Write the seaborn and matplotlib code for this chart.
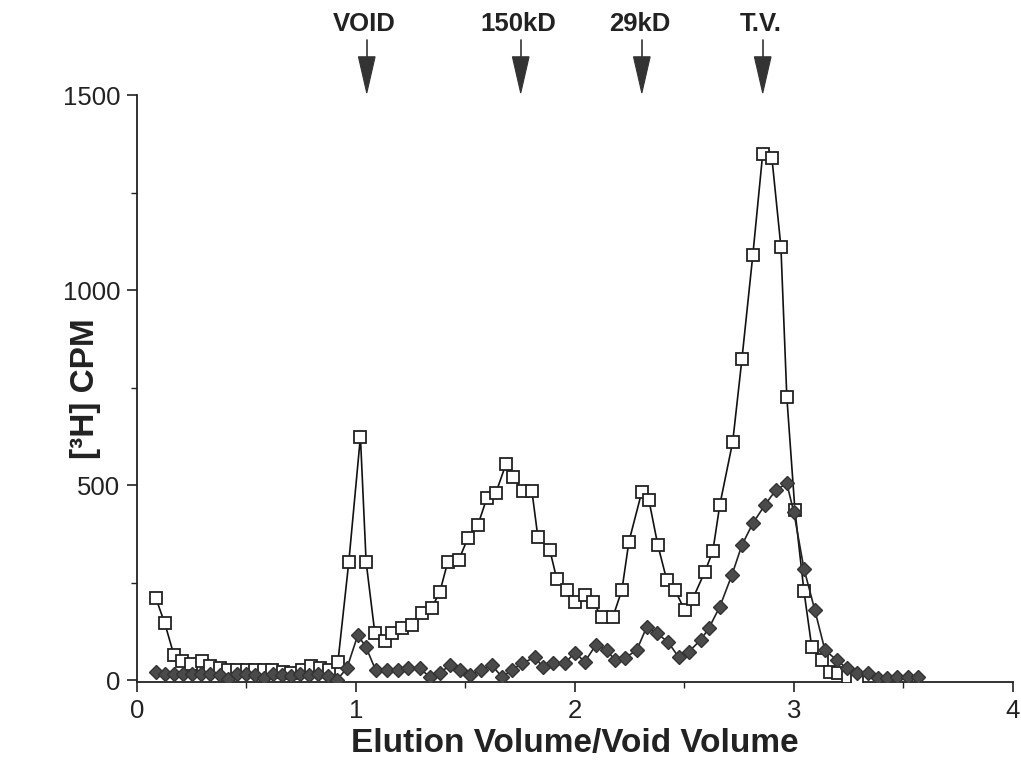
import numpy as np
import pandas as pd
import seaborn as sns
import matplotlib
matplotlib.use("Agg")
import matplotlib.pyplot as plt
from matplotlib.patches import Polygon
from matplotlib.ticker import MultipleLocator

# ---- data ----
sq_x = [0.087, 0.128, 0.169, 0.205, 0.247, 0.297, 0.333, 0.379, 0.416, 0.457,
        0.502, 0.539, 0.580, 0.616, 0.667, 0.703, 0.753, 0.795, 0.836, 0.877,
        0.918, 0.968, 1.021, 1.047, 1.087, 1.132, 1.164, 1.210, 1.256, 1.301,
        1.347, 1.384, 1.420, 1.470, 1.511, 1.557, 1.598, 1.639, 1.685, 1.717,
        1.763, 1.804, 1.831, 1.886, 1.918, 1.963, 2.000, 2.046, 2.082, 2.123,
        2.174, 2.215, 2.247, 2.306, 2.338, 2.379, 2.420, 2.457, 2.502, 2.539,
        2.594, 2.630, 2.662, 2.721, 2.763, 2.813, 2.858, 2.900, 2.941, 2.968,
        3.005, 3.046, 3.082, 3.128, 3.164, 3.201, 3.247, 3.288]
sq_y = [210, 145, 65, 50, 40, 50, 35, 30, 25, 25,
        25, 25, 25, 25, 20, 18, 25, 35, 30, 25,
        45, 303, 624, 303, 120, 100, 120, 133, 140, 171,
        185, 227, 303, 308, 363, 397, 466, 479, 553, 521,
        485, 485, 368, 333, 258, 231, 200, 218, 201, 162,
        162, 231, 355, 483, 462, 346, 256, 231, 179, 209,
        278, 330, 449, 611, 823, 1091, 1350, 1338, 1111, 726,
        436, 229, 84, 51, 21, 17, 9, 4]

dm_x = [0.087, 0.128, 0.169, 0.210, 0.251, 0.292, 0.333, 0.379, 0.416, 0.457,
        0.498, 0.539, 0.580, 0.621, 0.662, 0.703, 0.744, 0.785, 0.826, 0.872,
        0.913, 0.959, 1.009, 1.046, 1.091, 1.142, 1.192, 1.237, 1.292, 1.338,
        1.384, 1.429, 1.475, 1.521, 1.571, 1.621, 1.667, 1.712, 1.758, 1.817,
        1.854, 1.900, 1.954, 2.000, 2.046, 2.096, 2.146, 2.183, 2.228, 2.283,
        2.329, 2.374, 2.425, 2.475, 2.521, 2.575, 2.612, 2.662, 2.717, 2.763,
        2.813, 2.868, 2.918, 2.968, 3.000, 3.046, 3.096, 3.142, 3.196, 3.242,
        3.288, 3.338, 3.384, 3.425, 3.470, 3.521, 3.566]
dm_y = [20, 15, 15, 15, 15, 15, 15, 12, 2, 15,
        15, 12, 5, 15, 12, 10, 15, 12, 15, 10,
        0, 30, 115, 85, 25, 25, 25, 30, 30, 8,
        18, 38, 25, 13, 25, 38, 8, 25, 43, 58,
        34, 43, 43, 70, 47, 90, 77, 51, 56, 77,
        137, 120, 98, 58, 73, 103, 133, 188, 269, 346,
        402, 449, 487, 504, 430, 286, 179, 77, 51, 30,
        17, 17, 4, 4, 8, 8, 8]

marker_pos = [1.05, 1.753, 2.306, 2.858]
marker_labels = ["VOID", "150kD", "29kD", "T.V."]

x_label = "Elution Volume/Void Volume"
y_label = "[³H] CPM"

# ---- style ----
sns.set_style("ticks")
plt.rcParams["font.family"] = ["Liberation Sans", "DejaVu Sans"]

fig = plt.figure(figsize=(10.21, 7.75), dpi=100)
ax = fig.add_axes([0.134, 0.12, 0.858, 0.7574])

df_sq = pd.DataFrame({"x": sq_x, "y": sq_y})
df_dm = pd.DataFrame({"x": dm_x, "y": dm_y})

sns.lineplot(data=df_sq, x="x", y="y", ax=ax, sort=False, color="#111111",
             lw=1.2, marker="s", markersize=8.5, markerfacecolor="white",
             markeredgecolor="#222222", markeredgewidth=1.3, zorder=3)
sns.lineplot(data=df_dm, x="x", y="y", ax=ax, sort=False, color="#222222",
             lw=1.2, marker="D", markersize=7, markerfacecolor="#4a4a4a",
             markeredgecolor="#333333", markeredgewidth=1.0, zorder=4)

ax.set_xlim(0, 4)
ax.set_ylim(-5, 1500)
ax.xaxis.set_major_locator(MultipleLocator(1))
ax.xaxis.set_minor_locator(MultipleLocator(0.5))
ax.yaxis.set_major_locator(MultipleLocator(500))
ax.yaxis.set_minor_locator(MultipleLocator(250))
ax.tick_params(axis="both", which="major", direction="out", length=7, width=1.2,
               labelsize=18.5, pad=5, colors="#222222")
ax.tick_params(axis="both", which="minor", direction="out", length=4, width=1.0,
               colors="#222222")
sns.despine(ax=ax)
for s in ["left", "bottom"]:
    ax.spines[s].set_linewidth(1.3)
    ax.spines[s].set_color("#222222")

ax.set_xlabel(x_label, fontsize=24, fontweight="bold", color="#222222", labelpad=4)
ax.set_ylabel(y_label, fontsize=24, fontweight="bold", color="#222222")
ax.yaxis.set_label_coords(-0.059, 0.5)
ax.yaxis.label.set_va("center")

# ---- arrows above the plot ----
for xp, lab in zip(marker_pos, marker_labels):
    hw = 0.038
    tri = Polygon([[xp - hw, 1598], [xp + hw, 1598], [xp, 1505]], closed=True,
                  facecolor="#333333", edgecolor="#333333", lw=0.8,
                  clip_on=False, zorder=5)
    ax.add_patch(tri)
    ax.plot([xp, xp], [1598, 1640], color="#333333", lw=1.2, clip_on=False)
    ax.text(xp - 0.01, 1665, lab, ha="center", va="baseline", fontsize=18.5,
            fontweight="bold", color="#222222", clip_on=False)

fig.savefig("out.png", dpi=100)
